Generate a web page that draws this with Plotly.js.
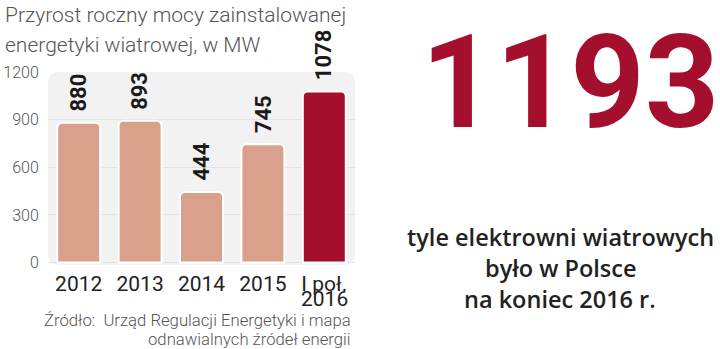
<!DOCTYPE html>
<html>
<head>
<meta charset="utf-8">
<script src="https://cdn.plot.ly/plotly-3.0.1.min.js"></script>
<style>html,body{margin:0;padding:0;background:#fff;}#chart{width:720px;height:349px;}</style>
</head>
<body>
<div id="chart"></div>
<script>
// Data
const categories = ['2012', '2013', '2014', '2015', 'I poł. 2016'];
const values = [880, 893, 444, 745, 1078];
const tickLine1 = ['2012', '2013', '2014', '2015', 'I poł.'];
const tickLine2 = ['', '', '', '', '2016'];
const yTicks = [0, 300, 600, 900, 1200];
const titleLines = ['Przyrost roczny mocy zainstalowanej', 'energetyki wiatrowej, w MW'];
const sourceLines = ['Źródło:  Urząd Regulacji Energetyki i mapa', 'odnawialnych źródeł energii'];
const bigNumber = '1193';
const bigNumberCaption = ['tyle elektrowni wiatrowych', 'było w Polsce', 'na koniec 2016 r.'];

const barColors = values.map((v, i) => i === values.length - 1 ? '#a30f2d' : '#d9a08b');

const trace = {
  type: 'bar',
  x: categories,
  y: values,
  marker: { color: barColors, line: { color: '#ffffff', width: 2 }, cornerradius: 5 },
  width: 0.7,
  hoverinfo: 'none'
};

// background rounded rect in paper units
const W = 307, H = 193, r = 12;
const rx = r / W, ry = r / H;
const bgPath = `M ${rx},0 L ${1 - rx},0 Q 1,0 1,${ry} L 1,${1 - ry} Q 1,1 ${1 - rx},1 L ${rx},1 Q 0,1 0,${1 - ry} L 0,${ry} Q 0,0 ${rx},0 Z`;

const annotations = [];
// value labels (x as category index)
values.forEach((v, i) => {
  annotations.push({
    x: i, y: v, xref: 'x', yref: 'y',
    text: String(v), showarrow: false, textangle: -90,
    xanchor: 'center', yanchor: 'bottom', yshift: 9,
    font: { family: 'Roboto', size: 22, color: '#1a1a1a', weight: 700 }
  });
});
// second line of x tick labels
tickLine2.forEach((t, i) => {
  if (!t) return;
  annotations.push({
    x: i, y: 0, xref: 'x', yref: 'paper',
    text: t, showarrow: false, xanchor: 'center', yanchor: 'top', yshift: -20,
    font: { family: 'Roboto', size: 21, color: '#222' }
  });
});
const pix = [];
// title lines
titleLines.forEach((t, i) => {
  pix.push({
    x: 3, y: 15 + i * 30, text: t, showarrow: false,
    xanchor: 'left', yanchor: 'middle', font: { family: 'Roboto', size: 21, color: '#555', weight: 300 }
  });
});
// source lines
sourceLines.forEach((t, i) => {
  pix.push({
    x: 353, y: 320 + i * 19, text: t, showarrow: false,
    xanchor: 'right', yanchor: 'middle', font: { family: 'Roboto', size: 16.7, color: '#555', weight: 300 }
  });
});
pix.push({
  x: 570, y: 82, text: bigNumber, showarrow: false, xanchor: 'center', yanchor: 'middle',
  font: { family: 'Roboto', size: 130, color: '#a30f2d', weight: 700 }
});
bigNumberCaption.forEach((t, i) => {
  pix.push({
    x: 560, y: 237 + i * 31, text: t, showarrow: false, xanchor: 'center', yanchor: 'middle',
    font: { family: 'Open Sans', size: 23.5, color: '#222', weight: 600 }
  });
});

// convert pixel-positioned annotations to paper coords
const FW = 720, FH = 349, ML = 48, MR = 720 - 355, MT = 72, MB = 84;
const PW = FW - ML - MR, PH = FH - MT - MB;
pix.forEach(a => {
  a.xref = 'paper'; a.yref = 'paper';
  a.x = (a.x - ML) / PW; a.y = 1 - (a.y - MT) / PH;
  annotations.push(a);
});

const layout = {
  width: FW, height: FH,
  margin: { l: ML, r: MR, t: MT, b: MB, pad: 0 },
  paper_bgcolor: '#ffffff',
  plot_bgcolor: 'rgba(0,0,0,0)',
  showlegend: false,
  xaxis: {
    type: 'category', categoryarray: categories, range: [-0.5, 4.5],
    tickvals: categories, ticktext: tickLine1,
    showgrid: false, zeroline: false, showline: false,
    ticks: '', ticklabelstandoff: 4,
    tickfont: { family: 'Roboto', size: 21, color: '#222' },
    fixedrange: true
  },
  yaxis: {
    range: [-15, 1200], tickvals: yTicks, ticktext: yTicks.map(String),
    showgrid: true, gridcolor: '#e2e2e2', gridwidth: 1, zeroline: false, showline: false,
    ticks: 'outside', ticklen: 5, tickcolor: 'rgba(0,0,0,0)',
    tickfont: { family: 'Roboto', size: 16, color: '#555', weight: 300 },
    fixedrange: true
  },
  shapes: [{
    type: 'path', xref: 'paper', yref: 'paper', path: bgPath,
    fillcolor: '#f2f2f2', line: { width: 0 }, layer: 'below'
  }],
  annotations: annotations
};

Plotly.newPlot('chart', [trace], layout, { displayModeBar: false, staticPlot: true });
</script>
</body>
</html>
